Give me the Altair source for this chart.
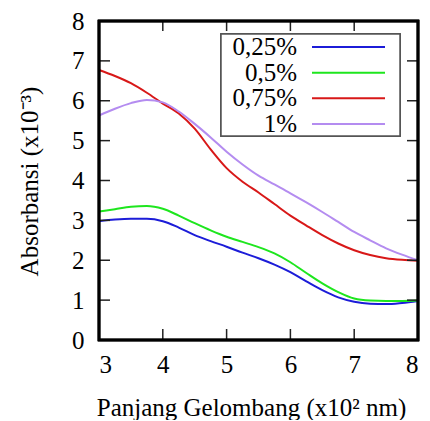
import altair as alt
import pandas as pd

wavelength = [3.0, 3.25, 3.5, 3.75, 4.0, 4.25, 4.5, 4.75, 5.0, 5.25, 5.5,
              5.75, 6.0, 6.25, 6.5, 6.75, 7.0, 7.25, 7.5, 7.75, 8.0]
c025 = [2.98, 3.02, 3.04, 3.04, 2.98, 2.82, 2.63, 2.48, 2.34, 2.19, 2.05,
        1.89, 1.70, 1.47, 1.25, 1.07, 0.96, 0.91, 0.90, 0.93, 0.98]
c050 = [3.22, 3.28, 3.34, 3.36, 3.29, 3.12, 2.93, 2.75, 2.59, 2.46, 2.33,
        2.17, 1.95, 1.68, 1.42, 1.20, 1.04, 0.99, 0.98, 0.98, 0.99]
c075 = [6.77, 6.62, 6.44, 6.20, 5.93, 5.68, 5.30, 4.78, 4.31, 3.97, 3.70,
        3.41, 3.12, 2.87, 2.63, 2.42, 2.25, 2.13, 2.05, 2.01, 1.99]
c100 = [5.63, 5.80, 5.94, 6.02, 5.96, 5.73, 5.42, 5.08, 4.72, 4.40, 4.12,
        3.90, 3.68, 3.45, 3.21, 2.96, 2.71, 2.50, 2.30, 2.14, 2.00]

series_names = ["0,25%", "0,5%", "0,75%", "1%"]
series_colors = ["#1c1cd8", "#1ee61e", "#d81818", "#b48cf0"]
x_ticks = [3, 4, 5, 6, 7, 8]
y_ticks = [0, 1, 2, 3, 4, 5, 6, 7, 8]

W, H = 319, 319
FONT = "Liberation Serif"

rows = []
for name, vals in zip(series_names, [c025, c050, c075, c100]):
    for x, y in zip(wavelength, vals):
        rows.append({"x": x, "y": y, "series": name, "order": x})
df = pd.DataFrame(rows)

xscale = alt.Scale(domain=[3, 8], nice=False)
yscale = alt.Scale(domain=[0, 8], nice=False)
cscale = alt.Scale(domain=series_names, range=series_colors)

xaxis = alt.Axis(values=x_ticks, format="d", ticks=False, domain=False,
                 grid=False, labelFont=FONT, labelFontSize=25,
                 labelColor="black", labelPadding=12,
                 title="Panjang Gelombang (x10² nm)",
                 titleFont=FONT, titleFontSize=25, titleFontWeight="normal",
                 titleColor="black", titleX=152, titleY=75,
                 titleBaseline="alphabetic")
yaxis = alt.Axis(values=y_ticks, format="d", ticks=False, domain=False,
                 grid=False, labelFont=FONT, labelFontSize=25,
                 labelColor="black", labelPadding=15,
                 title="Absorbansi (x10⁻³)",
                 titleFont=FONT, titleFontSize=25, titleFontWeight="normal",
                 titleColor="black", titleX=-62, titleY=160,
                 titleBaseline="alphabetic")

lines = alt.Chart(df).mark_line(strokeWidth=2, interpolate="monotone").encode(
    x=alt.X("x:Q", scale=xscale, axis=xaxis),
    y=alt.Y("y:Q", scale=yscale, axis=yaxis),
    color=alt.Color("series:N", scale=cscale, legend=None),
    detail="series:N",
    order="order:Q",
)

xt = pd.DataFrame({"t": x_ticks})
yt = pd.DataFrame({"t": y_ticks})
tick_style = dict(color="#222222", strokeWidth=1.5)

bottom_ticks = alt.Chart(xt).mark_rule(**tick_style).encode(
    x=alt.X("t:Q", scale=xscale, axis=xaxis), y=alt.value(H), y2=alt.value(H - 11))
top_ticks = alt.Chart(xt).mark_rule(**tick_style).encode(
    x=alt.X("t:Q", scale=xscale, axis=xaxis), y=alt.value(0), y2=alt.value(10))
left_ticks = alt.Chart(yt).mark_rule(**tick_style).encode(
    y=alt.Y("t:Q", scale=yscale, axis=yaxis), x=alt.value(0), x2=alt.value(11))
right_ticks = alt.Chart(yt).mark_rule(**tick_style).encode(
    y=alt.Y("t:Q", scale=yscale, axis=yaxis), x=alt.value(W), x2=alt.value(W - 11))

main = alt.layer(lines, bottom_ticks, top_ticks, left_ticks, right_ticks)

leg_df = pd.DataFrame({"series": series_names})
leg_y = alt.Y("series:N", scale=alt.Scale(type="point", domain=series_names,
                                          range=[26, 103], padding=0), axis=None)
frame = alt.Chart(leg_df).mark_rect(fill=None, stroke="black", strokeWidth=2.5).encode(
    x=alt.value(0), x2=alt.value(W), y=alt.value(0), y2=alt.value(H))
leg_box = alt.Chart(leg_df).mark_rect(fill="white", stroke="#555555", strokeWidth=1.5).encode(
    x=alt.value(122), x2=alt.value(301), y=alt.value(13), y2=alt.value(115))
leg_lines = alt.Chart(leg_df).mark_rule(strokeWidth=2).encode(
    x=alt.value(213), x2=alt.value(286), y=leg_y,
    color=alt.Color("series:N", scale=cscale, legend=None))
leg_text = alt.Chart(leg_df).mark_text(font=FONT, fontSize=25, align="right",
                                       baseline="alphabetic", dy=8, color="black").encode(
    x=alt.value(198), y=leg_y, text="series:N")
legend = alt.layer(frame, leg_box, leg_lines, leg_text)

chart = alt.layer(main, legend).resolve_scale(y="independent").properties(
    width=W, height=H,
    autosize=alt.AutoSizeParams(type="none"),
    padding={"left": 91, "top": 13, "right": 4, "bottom": 80},
).configure_view(stroke=None).configure(background="white")

chart.save("out.html", embed_options={"renderer": "svg", "actions": False})
